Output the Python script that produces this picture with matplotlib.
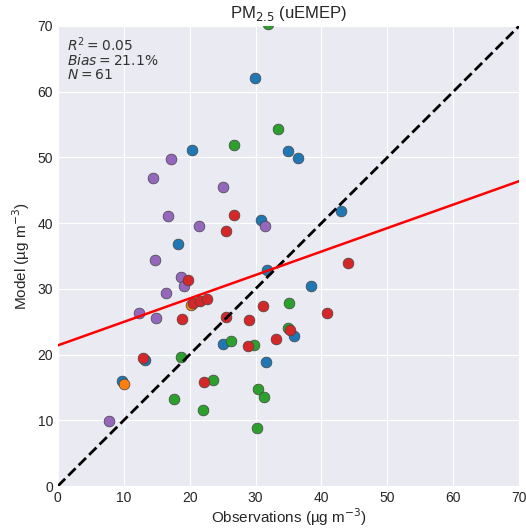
import matplotlib
matplotlib.use("Agg")
import matplotlib.pyplot as plt
import numpy as np

# observed vs modelled PM2.5, grouped by station type (colour)
blue_obs = [29.9, 20.4, 34.9, 36.4, 18.3, 30.8, 43.0, 31.7, 38.4, 35.9, 31.6, 25.0, 13.2, 9.8]
blue_mod = [62.1, 51.2, 51.0, 49.9, 36.8, 40.5, 41.8, 32.9, 30.4, 22.8, 18.8, 21.6, 19.2, 16.0]

orange_obs = [10.1, 20.2]
orange_mod = [15.5, 27.6]

green_obs = [31.9, 33.4, 26.7, 35.0, 34.9, 26.3, 29.8, 18.7, 23.6, 17.6, 22.0, 30.3, 31.3, 30.2]
green_mod = [70.3, 54.3, 51.9, 27.9, 24.1, 22.1, 21.4, 19.6, 16.1, 13.2, 11.6, 14.8, 13.6, 8.9]

purple_obs = [17.1, 14.5, 25.1, 16.7, 21.4, 14.8, 18.7, 19.1, 16.4, 12.3, 14.9, 7.7, 31.5]
purple_mod = [49.7, 46.8, 45.5, 41.1, 39.6, 34.4, 31.8, 30.4, 29.3, 26.4, 25.6, 9.9, 39.5]

red_obs = [26.8, 25.5, 19.7, 20.5, 21.6, 22.6, 18.8, 25.5, 31.2, 29.0, 33.1, 28.8, 12.9, 22.2, 40.9, 35.2, 44.0]
red_mod = [41.2, 38.8, 31.3, 27.9, 28.2, 28.4, 25.4, 25.7, 27.4, 25.2, 22.4, 21.3, 19.5, 15.8, 26.4, 23.7, 34.0]

# fitted regression line
fit_intercept = 21.4
fit_slope = 0.357

r2 = 0.05
bias = 21.1
n_obs = 61

plt.style.use("seaborn-v0_8-darkgrid")
fig, ax = plt.subplots(figsize=(5.26, 5.30), dpi=100)
fig.subplots_adjust(left=0.110, right=0.987, bottom=0.083, top=0.951)

groups = [
    (blue_obs, blue_mod, "tab:blue"),
    (orange_obs, orange_mod, "tab:orange"),
    (green_obs, green_mod, "tab:green"),
    (purple_obs, purple_mod, "tab:purple"),
    (red_obs, red_mod, "tab:red"),
]
for obs, mod, col in groups:
    ax.scatter(obs, mod, s=60, color=col, edgecolor="#444444", linewidth=0.5, zorder=2)

lim = 70
ax.plot([0, lim], [0, lim], color="k", linestyle="--", linewidth=2, zorder=3)
xx = np.array([0, lim])
ax.plot(xx, fit_intercept + fit_slope * xx, color="red", linewidth=1.8, zorder=3)

ax.set_xlim(0, lim)
ax.set_ylim(0, lim)
ax.set_xticks(np.arange(0, 71, 10))
ax.set_yticks(np.arange(0, 71, 10))

ax.text(0.02, 0.98, "$R^2 = %.2f$\n$Bias = %.1f\\%%$\n$N = %d$" % (r2, bias, n_obs),
        transform=ax.transAxes, va="top", ha="left", fontsize=10, color="#333333",
        linespacing=0.95)

ax.set_title("PM$_{2.5}$ (uEMEP)", fontsize=12)
ax.set_xlabel("Observations (µg m$^{-3}$)", fontsize=11, labelpad=1)
ax.set_ylabel("Model (µg m$^{-3}$)", fontsize=11)

plt.savefig("out.png", dpi=100)
plt.close()
